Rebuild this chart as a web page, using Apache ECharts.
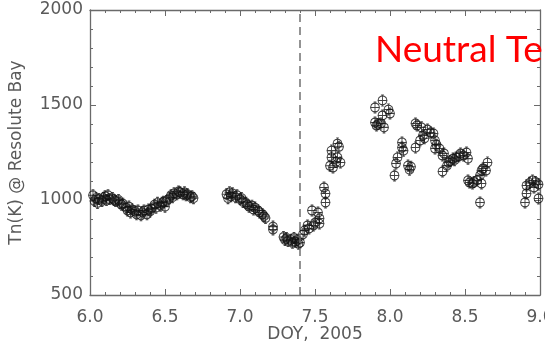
<!DOCTYPE html>
<html>
<head>
<meta charset="utf-8">
<script src="https://cdn.jsdelivr.net/npm/echarts@6/dist/echarts.min.js"></script>
<style>
  html, body { margin: 0; padding: 0; background: #fff; }
  #chart { width: 545px; height: 343px; }
</style>
</head>
<body>
<div id="chart"></div>
<script>
// Day of year (2005) for each neutral temperature sample
const doy = [
  6.02, 6.03, 6.04, 6.05, 6.06, 6.08, 6.09, 6.10, 6.11, 6.12, 6.13, 6.15, 6.16, 6.17, 6.19, 6.20,
  6.21, 6.22, 6.24, 6.25, 6.26, 6.27, 6.28, 6.30, 6.31, 6.32, 6.34, 6.35, 6.36, 6.38, 6.39, 6.40,
  6.41, 6.43, 6.44, 6.45, 6.47, 6.48, 6.49, 6.50, 6.51, 6.53, 6.54, 6.55, 6.56, 6.58, 6.59, 6.60,
  6.62, 6.63, 6.64, 6.65, 6.67, 6.68, 6.69,
  6.91, 6.92, 6.93, 6.94, 6.95, 6.97, 6.98, 7.00, 7.01, 7.02, 7.04, 7.05, 7.06, 7.08, 7.09, 7.10,
  7.12, 7.13, 7.15, 7.16, 7.17, 7.22, 7.22, 7.29, 7.30, 7.31, 7.32, 7.34, 7.35, 7.36, 7.37, 7.38, 7.39,
  7.40, 7.42, 7.43, 7.45, 7.46, 7.48, 7.49, 7.50, 7.52, 7.53, 7.53, 7.56, 7.57, 7.57, 7.60, 7.61,
  7.61, 7.62, 7.64, 7.65, 7.65, 7.66, 7.67,
  7.90, 7.95, 7.99, 8.00, 7.95, 7.90, 7.91, 7.94, 7.96, 7.92,
  8.03, 8.04, 8.05, 8.08, 8.08, 8.09, 8.12, 8.13, 8.14, 8.17, 8.17, 8.18, 8.21, 8.20, 8.22, 8.23,
  8.25, 8.27, 8.29, 8.30, 8.30, 8.31, 8.33, 8.35, 8.35, 8.36, 8.38, 8.39, 8.40, 8.42, 8.43, 8.44,
  8.46, 8.47, 8.49, 8.51, 8.52, 8.52, 8.53, 8.55, 8.56, 8.58, 8.60, 8.60, 8.61, 8.61, 8.62, 8.64, 8.65,
  8.90, 8.91, 8.91, 8.93, 8.95, 8.96, 8.97, 8.99, 8.99
];

// Neutral temperature Tn (K) at Resolute Bay, same order as doy
const tempK = [
  1025, 995, 1010, 985, 1005, 995, 1010, 1020, 1000, 1025, 1005, 1010, 1000, 995, 1000, 985,
  975, 980, 960, 945, 965, 935, 950, 940, 925, 945, 920, 935, 945, 925, 950, 940,
  955, 975, 960, 985, 970, 985, 990, 965, 995, 1010, 1025, 1015, 1035, 1030, 1045, 1040,
  1030, 1040, 1025, 1030, 1015, 1020, 1010,
  1030, 1010, 1040, 1020, 1035, 1015, 1025, 1005, 1010, 990, 985, 975, 965, 970, 950, 960,
  945, 935, 925, 915, 905, 860, 845, 805, 790, 800, 785, 790, 775, 800, 780, 790, 770,
  776, 820, 839, 866, 850, 945, 866, 880, 934, 903, 876, 1066, 1034, 987, 1180, 1260,
  1224, 1171, 1200, 1297, 1224, 1280, 1197,
  1487, 1524, 1476, 1455, 1445, 1408, 1392, 1403, 1382, 1400,
  1129, 1192, 1224, 1303, 1276, 1260, 1181, 1160, 1175, 1276, 1403, 1392, 1382, 1313, 1340, 1325,
  1371, 1355, 1350, 1313, 1271, 1290, 1271, 1234, 1150, 1245, 1181, 1197, 1205, 1218, 1210, 1224,
  1230, 1245, 1234, 1250, 1218, 1103, 1092, 1087, 1095, 1103, 1129, 987, 1155, 1087, 1166, 1155, 1197,
  987, 1034, 1076, 1090, 1103, 1066, 1095, 1082, 1008
];

const xTicks = [6.0, 6.5, 7.0, 7.5, 8.0, 8.5, 9.0];
const yTicks = [500, 1000, 1500, 2000];
const eventDoy = 7.4;
const titleText = 'Neutral Temperature';

const points = doy.map((d, i) => [d, tempK[i]]);

const axisGrey = '#6a6a6a';
const labelGrey = '#5a5a5a';
const labelFont = 'DejaVu Sans';

// open octagon with a horizontal bar and a short vertical error stroke
const markerPath = 'path://M-4,-3 L-2,-4.5 L2,-4.5 L4,-3 L5,0 L4,3 L2,4.5 L-2,4.5 L-4,3 L-5,0 Z M-5,0 L5,0 M0,-6 L0,6 M-1.5,-6 L1.5,-6 M-1.5,6 L1.5,6';

function frameAxis(extra) {
  return Object.assign({
    axisLine: { show: true, lineStyle: { color: axisGrey, width: 1.3 } },
    axisTick: { show: true, inside: true, length: 6, lineStyle: { color: axisGrey, width: 1 } },
    minorTick: { show: true, splitNumber: 5, length: 3, lineStyle: { color: axisGrey, width: 1 } },
    splitLine: { show: false },
    minorSplitLine: { show: false }
  }, extra);
}

const chart = echarts.init(document.getElementById('chart'), null, { renderer: 'canvas' });

chart.setOption({
  animation: false,
  backgroundColor: '#ffffff',
  grid: { left: 90, right: 5, top: 10, bottom: 48, containLabel: false, outerBoundsMode: 'none' },
  xAxis: [
    frameAxis({
      type: 'value', min: xTicks[0], max: xTicks[xTicks.length - 1], interval: 0.5,
      position: 'bottom',
      name: 'DOY,  2005', nameLocation: 'middle', nameGap: 31, nameMoveOverlap: false,
      nameTextStyle: { fontFamily: labelFont, fontSize: 17, color: labelGrey },
      axisLabel: {
        margin: 14, fontFamily: labelFont, fontSize: 17, color: labelGrey,
        formatter: v => v.toFixed(1)
      }
    }),
    frameAxis({
      type: 'value', min: xTicks[0], max: xTicks[xTicks.length - 1], interval: 0.5,
      position: 'top', axisLabel: { show: false }
    })
  ],
  yAxis: [
    frameAxis({
      type: 'value', min: yTicks[0], max: yTicks[yTicks.length - 1], interval: 500,
      position: 'left',
      name: 'Tn(K) @ Resolute Bay', nameLocation: 'middle', nameGap: 65, nameRotate: 90,
      nameMoveOverlap: false,
      nameTextStyle: { fontFamily: labelFont, fontSize: 17, color: labelGrey },
      axisLabel: { margin: 7, fontFamily: labelFont, fontSize: 17, color: labelGrey, formatter: v => String(v) }
    }),
    frameAxis({
      type: 'value', min: yTicks[0], max: yTicks[yTicks.length - 1], interval: 500,
      position: 'right', axisLabel: { show: false }
    })
  ],
  series: [{
    type: 'scatter',
    xAxisIndex: 0,
    yAxisIndex: 0,
    data: points,
    symbol: markerPath,
    symbolSize: [9, 11],
    itemStyle: { color: 'rgba(255,255,255,0)', borderColor: '#111', borderWidth: 1 },
    markLine: {
      silent: true,
      symbol: ['none', 'none'],
      label: { show: false },
      lineStyle: { type: [8, 5], color: '#707070', width: 1.5 },
      data: [{ xAxis: eventDoy }]
    }
  }],
  graphic: [{
    type: 'text',
    left: 375,
    top: 32,
    z: 100,
    style: {
      text: titleText,
      fill: '#ff0000',
      fontFamily: 'Lato',
      fontSize: 37
    }
  }]
});
</script>
</body>
</html>
